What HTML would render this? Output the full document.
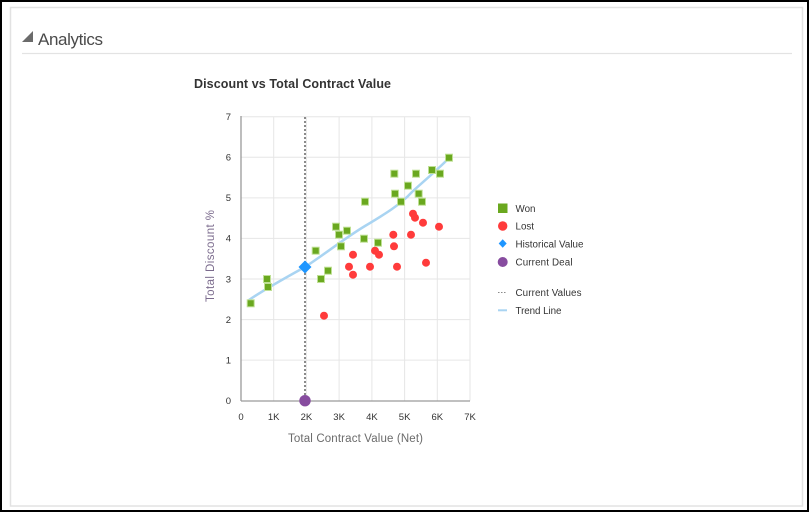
<!DOCTYPE html>
<html><head><meta charset="utf-8"><style>
html,body{margin:0;padding:0;background:#fff;width:811px;height:514px;overflow:hidden;}
svg{display:block;font-family:"Liberation Sans",sans-serif;}
</style></head><body>
<svg width="811" height="514" viewBox="0 0 811 514" xmlns="http://www.w3.org/2000/svg">
<rect x="1" y="1" width="807" height="510" fill="#fff" stroke="#000" stroke-width="2"/>
<rect x="10.5" y="7.5" width="792" height="498.5" fill="#fff" stroke="#e2e2e2" stroke-width="1.5"/>
<polygon points="22,42 33,42 33,31" fill="#6b6b6b"/>
<text x="38" y="45" font-size="17" fill="#4a4a4a" textLength="65">Analytics</text>
<line x1="22" y1="53.5" x2="792" y2="53.5" stroke="#e3e3e3" stroke-width="1.2"/>
<text x="194" y="88" font-size="12.5" font-weight="bold" fill="#333" textLength="197">Discount vs Total Contract Value</text>

<!-- gridlines -->
<g stroke="#e6e6e6" stroke-width="1">
<line x1="241" y1="116.7" x2="470" y2="116.7"/>
<line x1="241" y1="157.3" x2="470" y2="157.3"/>
<line x1="241" y1="197.9" x2="470" y2="197.9"/>
<line x1="241" y1="238.4" x2="470" y2="238.4"/>
<line x1="241" y1="279" x2="470" y2="279"/>
<line x1="241" y1="319.6" x2="470" y2="319.6"/>
<line x1="241" y1="360.1" x2="470" y2="360.1"/>
<line x1="273.7" y1="116.7" x2="273.7" y2="400.7"/>
<line x1="306.4" y1="116.7" x2="306.4" y2="400.7"/>
<line x1="339.1" y1="116.7" x2="339.1" y2="400.7"/>
<line x1="371.9" y1="116.7" x2="371.9" y2="400.7"/>
<line x1="404.6" y1="116.7" x2="404.6" y2="400.7"/>
<line x1="437.3" y1="116.7" x2="437.3" y2="400.7"/>
<line x1="470" y1="116.7" x2="470" y2="400.7"/>
</g>
<line x1="241" y1="116" x2="241" y2="401" stroke="#9a9a9a" stroke-width="1.3"/>
<line x1="241" y1="401" x2="470" y2="401" stroke="#9a9a9a" stroke-width="1.3"/>

<!-- y tick labels -->
<g font-size="9.5" fill="#333" text-anchor="end">
<text x="231" y="120">7</text>
<text x="231" y="160.6">6</text>
<text x="231" y="201.2">5</text>
<text x="231" y="241.7">4</text>
<text x="231" y="282.3">3</text>
<text x="231" y="322.9">2</text>
<text x="231" y="363.4">1</text>
<text x="231" y="404">0</text>
</g>
<g font-size="9.5" fill="#333" text-anchor="middle">
<text x="241" y="420">0</text>
<text x="273.7" y="420">1K</text>
<text x="306.4" y="420">2K</text>
<text x="339.1" y="420">3K</text>
<text x="371.9" y="420">4K</text>
<text x="404.6" y="420">5K</text>
<text x="437.3" y="420">6K</text>
<text x="470" y="420">7K</text>
</g>
<text x="355.5" y="442" font-size="11.5" fill="#6b6b6b" text-anchor="middle" textLength="135">Total Contract Value (Net)</text>
<text transform="translate(214,256) rotate(-90)" font-size="11.5" fill="#7b6b8d" text-anchor="middle" textLength="92">Total Discount %</text>

<!-- dotted vertical line -->
<line x1="305" y1="117" x2="305" y2="400" stroke="#8a8a8a" stroke-width="2" stroke-dasharray="2,2"/>

<!-- trend line -->
<path fill="none" stroke="#a9d4f2" stroke-width="2.5" stroke-linecap="round" stroke-linejoin="round"
 d="M249,300 C265,289 285,278 305,267 C325,254 345,238 365,226 C385,214 400,205 412,192 C424,181 436,171 447,160"/>

<!-- won squares -->
<g fill="#6aa81f" stroke="#bfe095" stroke-width="1">
<rect x="445.5" y="154.2" width="7" height="7"/>
<rect x="390.8" y="170.2" width="7" height="7"/>
<rect x="412.5" y="170.2" width="7" height="7"/>
<rect x="428.5" y="166.5" width="7" height="7"/>
<rect x="436.5" y="170.2" width="7" height="7"/>
<rect x="404.5" y="182.2" width="7" height="7"/>
<rect x="391.5" y="190.2" width="7" height="7"/>
<rect x="415.2" y="190.2" width="7" height="7"/>
<rect x="397.5" y="198.2" width="7" height="7"/>
<rect x="418.5" y="198.2" width="7" height="7"/>
<rect x="361.5" y="198.2" width="7" height="7"/>
<rect x="332.5" y="223.2" width="7" height="7"/>
<rect x="343.5" y="227.2" width="7" height="7"/>
<rect x="335.5" y="231.2" width="7" height="7"/>
<rect x="360.5" y="235.2" width="7" height="7"/>
<rect x="374.5" y="239.2" width="7" height="7"/>
<rect x="337.5" y="242.8" width="7" height="7"/>
<rect x="312.2" y="247.2" width="7" height="7"/>
<rect x="324.5" y="267.2" width="7" height="7"/>
<rect x="317.5" y="275.5" width="7" height="7"/>
<rect x="263.5" y="275.5" width="7" height="7"/>
<rect x="264.5" y="283.5" width="7" height="7"/>
<rect x="247.2" y="299.8" width="7" height="7"/>
</g>

<!-- lost circles -->
<g fill="#ff3b3b">
<circle cx="413" cy="213.7" r="4"/>
<circle cx="415" cy="217.7" r="4"/>
<circle cx="423" cy="222.7" r="4"/>
<circle cx="439" cy="226.7" r="4"/>
<circle cx="393.3" cy="234.7" r="4"/>
<circle cx="411" cy="234.7" r="4"/>
<circle cx="394" cy="246.3" r="4"/>
<circle cx="353" cy="254.7" r="4"/>
<circle cx="375" cy="250.7" r="4"/>
<circle cx="379" cy="254.7" r="4"/>
<circle cx="349" cy="266.7" r="4"/>
<circle cx="353" cy="274.7" r="4"/>
<circle cx="370" cy="266.7" r="4"/>
<circle cx="397" cy="266.7" r="4"/>
<circle cx="426" cy="262.7" r="4"/>
<circle cx="324" cy="315.7" r="4"/>
</g>

<!-- historical diamond -->
<polygon points="305,260.5 311.5,267 305,273.5 298.5,267" fill="#1e96ff"/>
<!-- current deal -->
<circle cx="305" cy="400.7" r="5.7" fill="#874c9f"/>

<!-- legend -->
<rect x="498" y="203.5" width="9.5" height="9.5" fill="#6aa81f"/>
<circle cx="502.7" cy="226" r="4.7" fill="#ff3b3b"/>
<polygon points="502.7,239.3 506.7,243.5 502.7,247.7 498.7,243.5" fill="#1e96ff"/>
<circle cx="502.7" cy="262" r="5" fill="#874c9f"/>
<line x1="498" y1="292.5" x2="506" y2="292.5" stroke="#8a8a8a" stroke-width="1" stroke-dasharray="1.5,1.5"/>
<line x1="498" y1="310.3" x2="507" y2="310.3" stroke="#a9d4f2" stroke-width="2"/>
<g font-size="9.8" fill="#333">
<text x="515.5" y="211.8">Won</text>
<text x="515.5" y="229.6">Lost</text>
<text x="515.5" y="247.5" textLength="68">Historical Value</text>
<text x="515.5" y="265.5" textLength="57">Current Deal</text>
<text x="515.5" y="296.2" textLength="66">Current Values</text>
<text x="515.5" y="313.8" textLength="46">Trend Line</text>
</g>
</svg>
</body></html>
